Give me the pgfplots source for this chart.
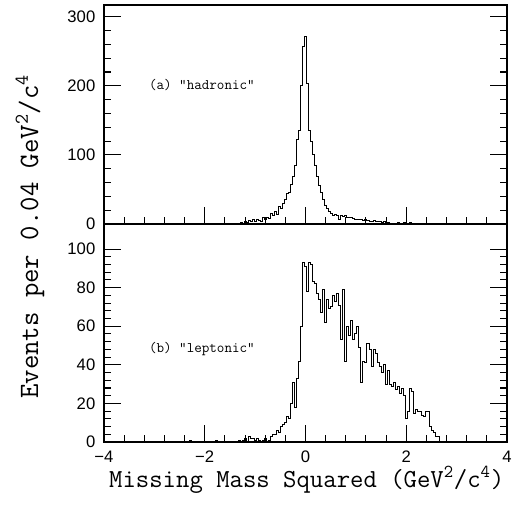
\documentclass[border=0pt]{standalone}
\usepackage{fontspec}
\setsansfont{Liberation Sans}
\usepackage{pgfplots}
\usepackage{pgfplotstable}
\pgfplotsset{compat=1.18}

% top panel: "hadronic", bins of 0.04 (centre, events)
\pgfplotstableread{
x y
-1.64 0
-1.60 0
-1.56 1
-1.52 0
-1.44 0
-1.40 1
-1.36 0
-1.32 1
-1.28 2
-1.24 1
-1.20 3
-1.16 2
-1.12 5
-1.08 3
-1.04 6
-1.00 4
-0.96 7
-0.92 5
-0.88 3
-0.84 9
-0.80 6
-0.76 10
-0.72 8
-0.68 15
-0.64 12
-0.60 18
-0.56 14
-0.52 25
-0.48 22
-0.44 30
-0.40 35
-0.36 44
-0.32 45
-0.28 57
-0.24 69
-0.20 85
-0.16 122
-0.12 136
-0.08 200
-0.04 257
0.00 271
0.04 204
0.08 136
0.12 120
0.16 100
0.20 85
0.24 69
0.28 56
0.32 45
0.36 35
0.40 27
0.44 22
0.48 18
0.52 15
0.56 13
0.60 14
0.64 12
0.68 7
0.72 12
0.76 11
0.80 13
0.84 10
0.88 9
0.92 10
0.96 8
1.00 7
1.04 6
1.08 7
1.12 6
1.16 5
1.20 6
1.24 5
1.28 4
1.32 4
1.36 5
1.40 3
1.44 4
1.48 3
1.52 2
1.56 3
1.60 1
1.64 2
1.68 0
1.72 0
1.76 1
1.80 0
1.84 2
1.88 1
1.92 0
1.96 2
2.00 1
2.04 1
2.08 2
2.12 1
2.16 1
2.20 0
2.24 1
2.28 1
2.32 0
2.36 1
2.40 0
}\hadronic

% bottom panel: "leptonic"
\pgfplotstableread{
x y
-2.32 0
-2.28 1
-2.24 0
-1.80 0
-1.76 1
-1.72 0
-1.36 0
-1.32 1
-1.28 0
-1.24 1
-1.20 2
-1.16 0
-1.12 3
-1.08 2
-1.04 2
-1.00 1
-0.96 2
-0.92 1
-0.88 0
-0.84 1
-0.80 2
-0.76 0
-0.72 1
-0.68 3
-0.64 4
-0.60 4
-0.56 6
-0.52 5
-0.48 8
-0.44 9
-0.40 10
-0.36 13
-0.32 12
-0.28 20
-0.24 31
-0.20 18
-0.16 33
-0.12 42
-0.08 60
-0.04 93
0.00 91
0.04 78
0.08 93
0.12 92
0.16 83
0.20 82
0.24 77
0.28 74
0.32 67
0.36 79
0.40 62
0.44 74
0.48 69
0.52 70
0.56 76
0.60 73
0.64 77
0.68 71
0.72 53
0.76 79
0.80 42
0.84 60
0.88 55
0.92 63
0.96 53
1.00 56
1.04 60
1.08 49
1.12 31
1.16 42
1.20 41
1.24 51
1.28 48
1.32 39
1.36 48
1.40 46
1.44 41
1.48 39
1.52 36
1.56 40
1.60 30
1.64 37
1.68 30
1.72 29
1.76 31
1.80 27
1.84 29
1.88 25
1.92 28
1.96 24
2.00 12
2.04 16
2.08 28
2.12 26
2.16 15
2.20 17
2.24 16
2.28 16
2.32 14
2.36 13
2.40 16
2.44 16
2.48 8
2.52 6
2.56 5
2.60 3
2.64 3
2.68 0
}\leptonic

\pgfplotsset{
  panel/.style={
    scale only axis, width=302.25pt,
    xmin=-4, xmax=4,
    xtick={-4,-2,0,2,4},
    minor x tick num=4,
    xtick pos=lower, ytick pos=both, tick align=inside,
    major tick length=13pt, minor tick length=5pt,
    axis line style={line width=0.8pt},
    every tick/.append style={black, line width=0.8pt},
    every minor tick/.append style={black, line width=0.8pt},
    tick label style={font=\sffamily\fontsize{12.5}{14}\selectfont},
    /pgf/number format/assume math mode=true,
    yticklabel style={xshift=-3pt},
    xticklabel style={yshift=-3pt},
  },
  hist/.style={const plot mark mid, black, line width=0.7pt, no marks},
}

\begin{document}
\begin{tikzpicture}
\useasboundingbox (-78pt,-51pt) rectangle (318.75pt,331.5pt);

\begin{axis}[panel, at={(0,163.5pt)}, anchor=south west,
  height=164.25pt, ymin=0, ymax=317,
  ytick={0,100,200,300}, minor y tick num=4,
  xticklabels={}]
  \addplot[hist] table[x=x, y=y] {\hadronic};
  \node[anchor=west, font=\ttfamily\fontsize{11}{13}\selectfont] at (axis cs:-3.2,201) {(a) "hadronic"};
\end{axis}

\begin{axis}[panel, at={(0,0)}, anchor=south west,
  height=163.5pt, ymin=0, ymax=113,
  ytick={0,20,40,60,80,100}, minor y tick num=4,
  xticklabels={−4,−2,0,2,4}]
  \addplot[hist] table[x=x, y=y] {\leptonic};
  \node[anchor=west, font=\ttfamily\fontsize{11}{13}\selectfont] at (axis cs:-3.2,48) {(b) "leptonic"};
\end{axis}

\node[rotate=90, font=\ttfamily\fontsize{21}{25}\selectfont] at (-55.5pt,154pt) {Events per 0.04 GeV\textsuperscript{2}/c\textsuperscript{4}};
\node[font=\ttfamily\fontsize{19.5}{23}\selectfont] at (152pt,-28.5pt) {Missing Mass Squared (GeV\textsuperscript{2}/c\textsuperscript{4})};
\end{tikzpicture}
\end{document}
